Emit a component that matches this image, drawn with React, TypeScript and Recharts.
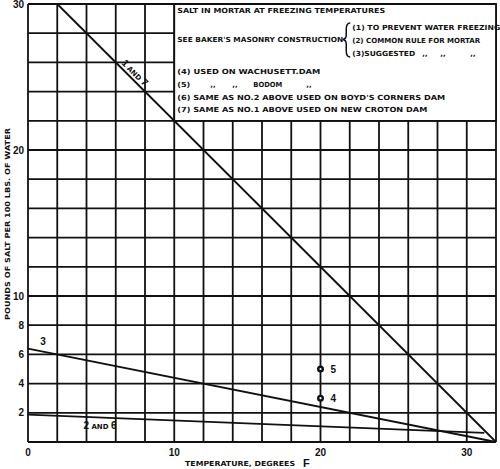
import React from 'react'
import {
  CartesianGrid,
  ComposedChart,
  Line,
  ReferenceArea,
  ReferenceDot,
  Scatter,
  XAxis,
  YAxis,
} from 'recharts'

// temperature (deg F) on x, pounds of salt per 100 lbs of water on y
const line17Temp = [2, 32]
const line17Salt = [30, 0]
const line3Temp = [0, 32]
const line3Salt = [6.4, 0]
const line26Temp = [0, 31.2]
const line26Salt = [1.87, 0.62]

const damTemp = [20, 20]
const damSalt = [5, 3]
const damLabels = ['5', '4']

const xGridTicks = [0, 2, 4, 6, 8, 10, 12, 14, 16, 18, 20, 22, 24, 26, 28, 30, 32]
const yGridTicks = [0, 2, 4, 6, 8, 10, 12, 14, 16, 18, 20, 22, 24, 26, 28, 30]
const xTickLabels = [0, 10, 20, 30]
const yTickLabels = [2, 4, 6, 8, 10, 20, 30]

const legendTitle = 'SALT IN MORTAR AT FREEZING TEMPERATURES'
const legendSource = "SEE BAKER'S MASONRY CONSTRUCTION"
const legendBaker = ['(1) TO PREVENT WATER FREEZING', '(2) COMMON RULE FOR MORTAR']
const legendNotes = [
  '(4)  USED ON WACHUSETT.DAM',
  "(6)  SAME AS NO.2 ABOVE USED ON BOYD'S CORNERS DAM",
  '(7)  SAME AS NO.1 ABOVE USED ON NEW CROTON DAM',
]

const toPoints = (temps: number[], salts: number[]) =>
  temps.map((t, i) => ({ temp: t, salt: salts[i] }))

const line17 = toPoints(line17Temp, line17Salt)
const line3 = toPoints(line3Temp, line3Salt)
const line26 = toPoints(line26Temp, line26Salt)
const dams = damTemp.map((t, i) => ({ temp: t, salt: damSalt[i], label: damLabels[i] }))

const INK = '#111'
const FONT = "'Liberation Sans', Arial, sans-serif"
const HEAVY = "'DejaVu Sans', 'Liberation Sans', sans-serif"

function XTick(props: any) {
  const { x, y, payload } = props
  if (!xTickLabels.includes(payload.value)) return null
  return (
    <text x={x} y={y + 13.5} textAnchor="middle" fontSize={10} fontWeight="bold" fill={INK} fontFamily={FONT}>
      {payload.value}
    </text>
  )
}

function YTick(props: any) {
  const { x, y, payload } = props
  if (!yTickLabels.includes(payload.value)) return null
  return (
    <text x={x - 4} y={y + 3.5} textAnchor="end" fontSize={10} fontWeight="bold" fill={INK} fontFamily={FONT}>
      {payload.value}
    </text>
  )
}

function LegendText(props: any) {
  const { x, y } = props.viewBox
  const line = (dx: number, dy: number, str: string, len?: number) => (
    <text
      x={x + dx}
      y={y + dy}
      fontSize={7}
      fontWeight="bold"
      fill={INK}
      fontFamily={HEAVY}
      textLength={len}
      lengthAdjust="spacingAndGlyphs"
    >
      {str}
    </text>
  )
  return (
    <g>
      {line(3, 8.5, legendTitle, 208)}
      {line(3, 37.5, legendSource, 166)}
      <path
        d={`M${x + 176},${y + 19} Q${x + 172},${y + 19} ${x + 172},${y + 25} L${x + 172},${y + 31}
          Q${x + 172},${y + 35} ${x + 168.5},${y + 35.5} Q${x + 172},${y + 36} ${x + 172},${y + 40}
          L${x + 172},${y + 47} Q${x + 172},${y + 53} ${x + 176},${y + 53}`}
        fill="none"
        stroke={INK}
        strokeWidth={1.5}
      />
      {line(178, 25.5, legendBaker[0], 148)}
      {line(178, 38.5, legendBaker[1], 128)}
      {line(178, 51.5, '(3)SUGGESTED', 63)}
      {line(248, 51.5, ',,')}
      {line(266, 51.5, ',,')}
      {line(296, 51.5, ',,')}
      {line(3, 69.5, legendNotes[0], 143)}
      {line(3, 82.5, '(5)', 13)}
      {line(36, 82.5, ',,')}
      {line(58, 82.5, ',,')}
      {line(79, 82.5, 'BODOM', 29)}
      {line(132, 82.5, ',,')}
      {line(3, 95.5, legendNotes[1], 268)}
      {line(3, 107.5, legendNotes[2], 250)}
    </g>
  )
}

function XTitle(props: any) {
  const { x, y } = props.viewBox
  return (
    <g fontWeight="bold" fill={INK}>
      <text x={x + 157} y={y + 24} fontSize={7} fontFamily={HEAVY} textLength={110} lengthAdjust="spacingAndGlyphs">
        TEMPERATURE, DEGREES
      </text>
      <text x={x + 275} y={y + 25} fontSize={11} fontFamily={FONT}>
        F
      </text>
    </g>
  )
}

function YTitle(props: any) {
  const { x, y, height } = props.viewBox
  const cx = x + 9.5
  const cy = y + height / 2 + 1
  return (
    <text
      x={cx}
      y={cy}
      transform={`rotate(-90, ${cx}, ${cy})`}
      textAnchor="middle"
      fontSize={7}
      fontWeight="bold"
      fill={INK}
      fontFamily={HEAVY}
      textLength={192}
      lengthAdjust="spacingAndGlyphs"
    >
      POUNDS OF SALT PER 100 LBS. OF WATER
    </text>
  )
}

function CurveLabel(props: any) {
  const { viewBox, big, small, rotate } = props
  const cx = viewBox.x + viewBox.width / 2
  const cy = viewBox.y + viewBox.height / 2
  return (
    <text
      x={cx}
      y={cy + 3.5}
      textAnchor="middle"
      fontWeight="bold"
      fill={INK}
      fontFamily={FONT}
      transform={rotate ? `rotate(${rotate}, ${cx}, ${cy})` : undefined}
    >
      {big.map((b: string, i: number) => (
        <React.Fragment key={i}>
          <tspan fontSize={10}>{b}</tspan>
          {i < big.length - 1 && small ? (
            <tspan fontSize={7} fontFamily={HEAVY}>
              {small}
            </tspan>
          ) : null}
        </React.Fragment>
      ))}
    </text>
  )
}

function DamPoint(props: any) {
  const { cx, cy, payload } = props
  return (
    <g>
      <circle cx={cx} cy={cy} r={2.3} fill="#fff" stroke={INK} strokeWidth={2.4} />
      <text x={cx + 10} y={cy + 3.5} fontSize={10} fontWeight="bold" fill={INK} fontFamily={FONT}>
        {payload.label}
      </text>
    </g>
  )
}

export default function App() {
  return (
    <div style={{ position: 'absolute', left: 0, top: 0, background: '#fff' }}>
      <ComposedChart width={500} height={469} margin={{ top: 4, right: 4, bottom: 0, left: 0 }}>
        <CartesianGrid stroke={INK} strokeWidth={1.8} />
        <XAxis
          dataKey="temp"
          type="number"
          domain={[0, 32]}
          ticks={xGridTicks}
          interval={0}
          height={27}
          axisLine={false}
          tickLine={false}
          tickSize={0}
          tickMargin={0}
          tick={<XTick />}
          label={(p: any) => <XTitle {...p} />}
        />
        <YAxis
          dataKey="salt"
          type="number"
          domain={[0, 30]}
          ticks={yGridTicks}
          interval={0}
          width={28}
          axisLine={false}
          tickLine={false}
          tickSize={0}
          tickMargin={0}
          tick={<YTick />}
          label={(p: any) => <YTitle {...p} />}
        />
        <ReferenceArea
          x1={10}
          x2={32}
          y1={22}
          y2={30}
          fill="#fff"
          fillOpacity={1}
          stroke={INK}
          strokeWidth={1.8}
          label={(p: any) => <LegendText {...p} />}
        />
        <Line data={line17} dataKey="salt" type="linear" dot={false} stroke={INK} strokeWidth={1.8} isAnimationActive={false} />
        <Line data={line3} dataKey="salt" type="linear" dot={false} stroke={INK} strokeWidth={1.8} isAnimationActive={false} />
        <Line data={line26} dataKey="salt" type="linear" dot={false} stroke={INK} strokeWidth={1.8} isAnimationActive={false} />
        <Scatter data={dams} dataKey="salt" shape={(p: any) => <DamPoint {...p} />} isAnimationActive={false} />
        <ReferenceDot
          x={7.32}
          y={25.3}
          r={0}
          stroke="none"
          fill="none"
          label={(p: any) => <CurveLabel {...p} big={['1', '7']} small=" AND " rotate={45} />}
        />
        <ReferenceDot
          x={1.03}
          y={6.85}
          r={0}
          stroke="none"
          fill="none"
          label={(p: any) => <CurveLabel {...p} big={['3']} />}
        />
        <ReferenceDot
          x={4.92}
          y={1.16}
          r={0}
          stroke="none"
          fill="none"
          label={(p: any) => <CurveLabel {...p} big={['2', '6']} small=" AND " />}
        />
      </ComposedChart>
    </div>
  )
}
